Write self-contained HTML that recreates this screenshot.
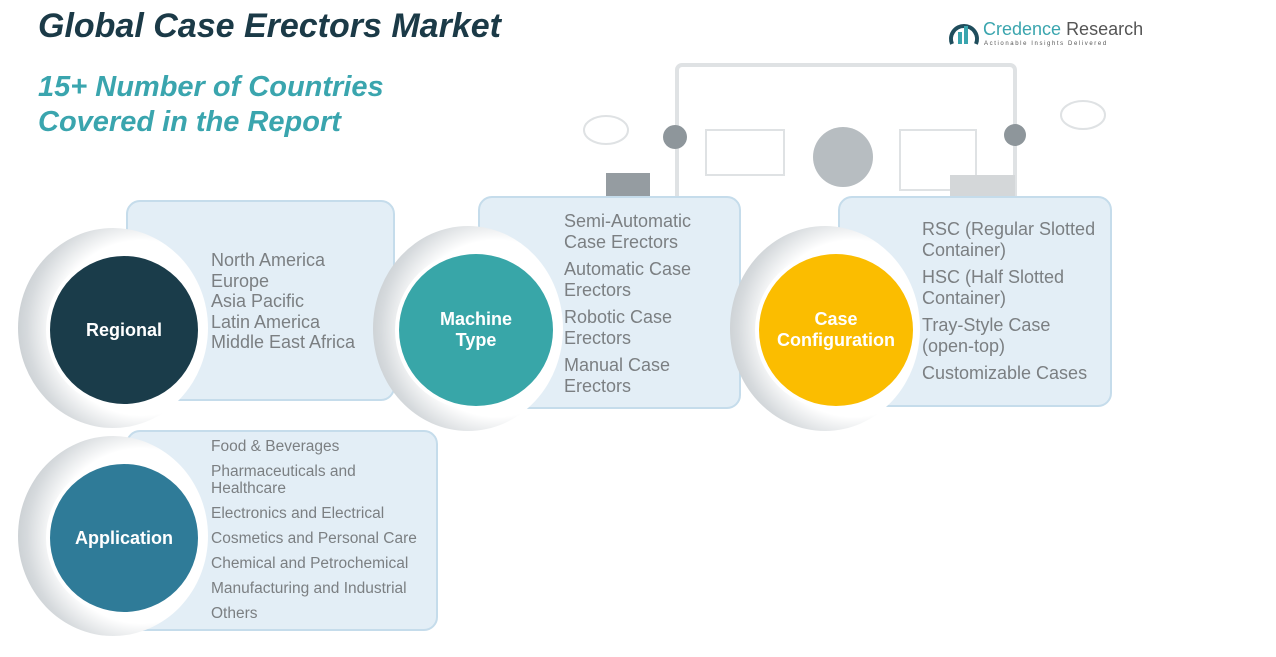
<!DOCTYPE html>
<html><head><style>
*{margin:0;padding:0;box-sizing:border-box}
body{width:1276px;height:657px;background:#fff;position:relative;overflow:hidden;font-family:"Liberation Sans",sans-serif}
.t{position:absolute;font-style:italic;font-weight:bold}
.box{position:absolute;background:#e3eef6;border:2px solid #c5dceb;border-radius:14px}
.ring{position:absolute;border-radius:50%;background:radial-gradient(circle at 65% 50%,#fff 55%,#d6dadd 72%,#a9b1b6 100%)}
.c{position:absolute;border-radius:50%;border:4px solid #fff;color:#fff;font-weight:bold;display:flex;align-items:center;justify-content:center;text-align:center;font-size:18px;line-height:21px}
.items{position:absolute;color:#7b7f82;font-size:18px;line-height:20.5px}
.sm{font-size:15.5px;line-height:17px}
</style></head><body>
<div class="t" style="left:38px;top:7px;font-size:34px;color:#1b3a47">Global Case Erectors Market</div>
<div class="t" style="left:38px;top:70px;font-size:29px;color:#3aa5ae;line-height:35px">15+ Number of Countries<br>Covered in the Report</div>
<svg style="position:absolute;left:948px;top:16px" width="220" height="34"><path d="M4 28 A13 13 0 1 1 28 28" fill="none" stroke="#1f4d5c" stroke-width="4"/><rect x="10" y="16" width="4" height="12" fill="#3aa5ae"/><rect x="16" y="10" width="4" height="18" fill="#3aa5ae"/><text x="35" y="19" font-family="Liberation Sans" font-size="18" fill="#3aa5ae">Credence <tspan fill="#555">Research</tspan></text><text x="36" y="29" font-family="Liberation Sans" font-size="6" letter-spacing="1.6" fill="#555">Actionable Insights Delivered</text></svg>
<svg style="position:absolute;left:570px;top:55px" width="560" height="150" fill="none" stroke="#dfe2e4" stroke-width="4">
<rect x="107" y="10" width="338" height="150" rx="5"/>
<rect x="136" y="75" width="78" height="45" stroke-width="2"/><rect x="330" y="75" width="76" height="60" stroke-width="2"/>
<circle cx="273" cy="102" r="30" fill="#b7bdc1" stroke="none"/>
<rect x="36" y="118" width="44" height="40" fill="#959ca1" stroke="none"/><circle cx="105" cy="82" r="12" fill="#8e969b" stroke="none"/>
<rect x="380" y="120" width="65" height="40" fill="#d4d7d9" stroke="none"/><circle cx="445" cy="80" r="11" fill="#8e969b" stroke="none"/>
<ellipse cx="36" cy="75" rx="22" ry="14" stroke-width="2"/><ellipse cx="513" cy="60" rx="22" ry="14" stroke-width="2"/>
</svg>
<div class="box" style="left:126px;top:200px;width:269px;height:201px"></div>
<div class="box" style="left:478px;top:196px;width:263px;height:213px"></div>
<div class="box" style="left:838px;top:196px;width:274px;height:211px"></div>
<div class="box" style="left:126px;top:430px;width:312px;height:201px"></div>
<div class="ring" style="left:18px;top:228px;width:190px;height:200px"></div>
<div class="ring" style="left:373px;top:226px;width:190px;height:205px"></div>
<div class="ring" style="left:730px;top:226px;width:190px;height:205px"></div>
<div class="ring" style="left:18px;top:436px;width:190px;height:200px"></div>
<div class="c" style="left:46px;top:252px;width:156px;height:156px;background:#1a3c4a">Regional</div>
<div class="c" style="left:395px;top:250px;width:162px;height:160px;background:#38a6a8">Machine<br>Type</div>
<div class="c" style="left:755px;top:250px;width:162px;height:160px;background:#fbbd00">Case<br>Configuration</div>
<div class="c" style="left:46px;top:460px;width:156px;height:156px;background:#2f7b98">Application</div>
<div class="items" style="left:211px;top:250px">North America<br>Europe<br>Asia Pacific<br>Latin America<br>Middle East Africa</div>
<div class="items" style="left:564px;top:211px">Semi-Automatic<br>Case Erectors<div style="height:7px"></div>Automatic Case<br>Erectors<div style="height:7px"></div>Robotic Case<br>Erectors<div style="height:7px"></div>Manual Case<br>Erectors</div>
<div class="items" style="left:922px;top:219px">RSC (Regular Slotted<br>Container)<div style="height:7px"></div>HSC (Half Slotted<br>Container)<div style="height:7px"></div>Tray-Style Case<br>(open-top)<div style="height:7px"></div>Customizable Cases</div>
<div class="items sm" style="left:211px;top:438px">Food &amp; Beverages<div style="height:8px"></div>Pharmaceuticals and<br>Healthcare<div style="height:8px"></div>Electronics and Electrical<div style="height:8px"></div>Cosmetics and Personal Care<div style="height:8px"></div>Chemical and Petrochemical<div style="height:8px"></div>Manufacturing and Industrial<div style="height:8px"></div>Others</div>
</body></html>
